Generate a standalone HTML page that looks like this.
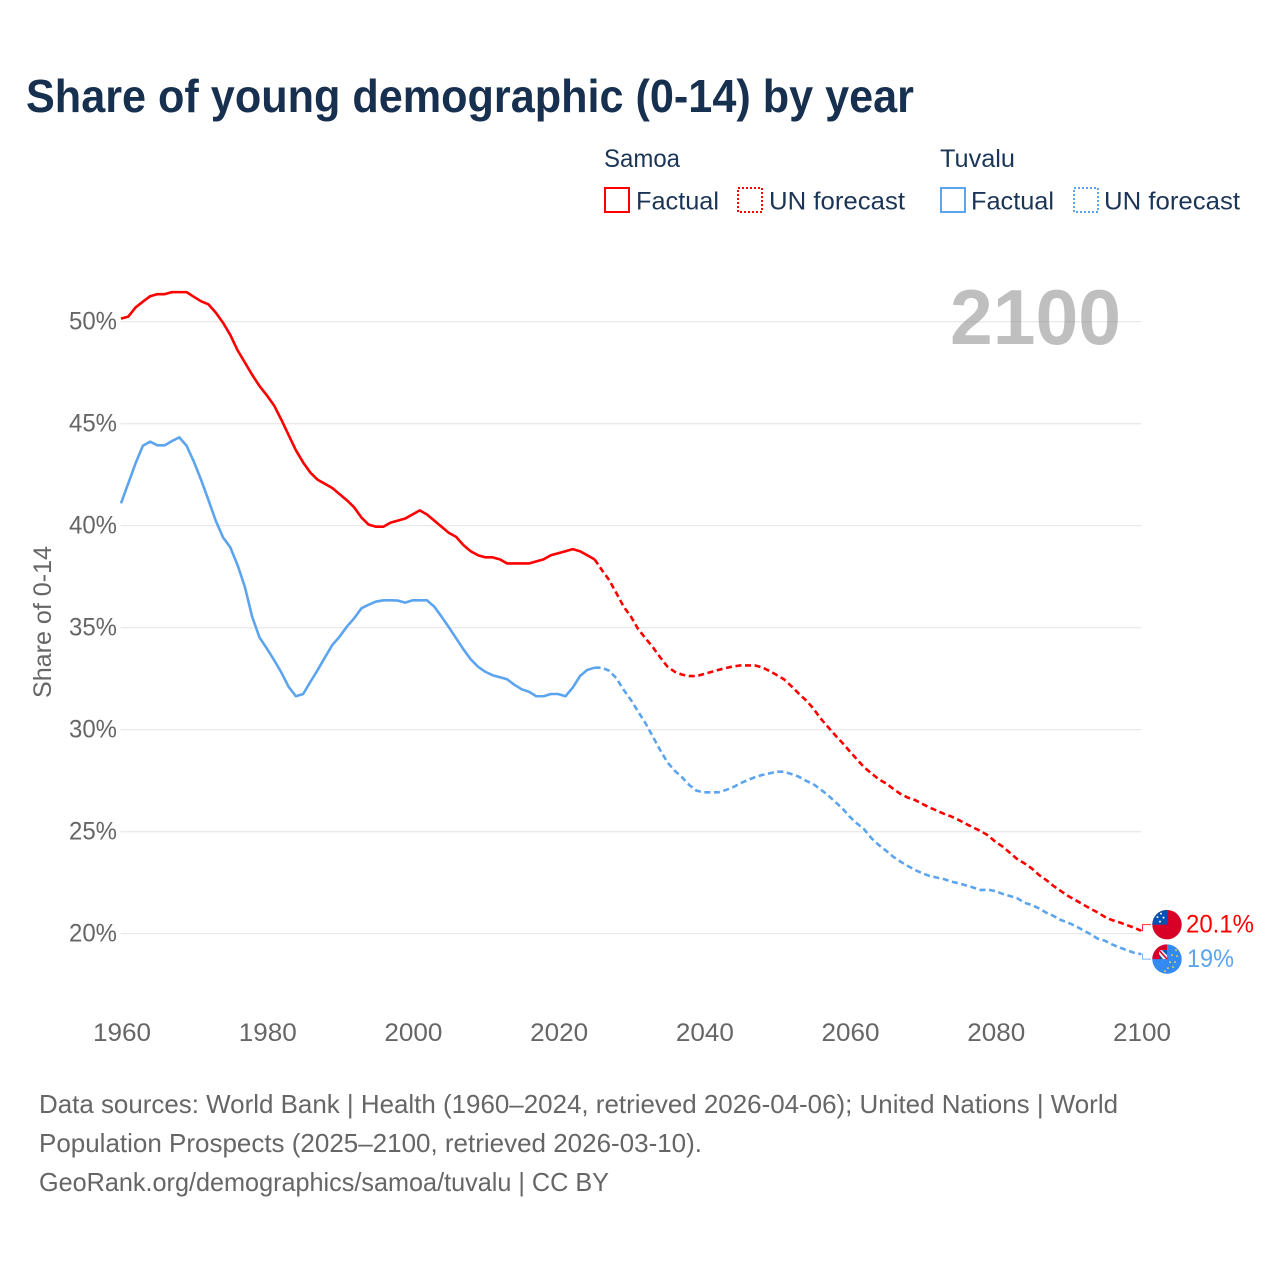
<!DOCTYPE html>
<html lang="en">
<head>
<meta charset="utf-8">
<title>Share of young demographic (0-14) by year</title>
<style>
html,body{margin:0;padding:0;background:#fff;width:1280px;height:1280px;overflow:hidden}
svg{display:block;font-family:"Liberation Sans",Arial,sans-serif}
</style>
</head>
<body>
<svg id="chart" xmlns="http://www.w3.org/2000/svg" width="1280" height="1280" viewBox="0 0 1280 1280">
  <rect width="1280" height="1280" fill="#ffffff"/>
  <text x="26" y="112" font-size="46" font-weight="700" fill="#18304f" textLength="888" lengthAdjust="spacingAndGlyphs">Share of young demographic (0-14) by year</text>

  <g font-size="25" fill="#1b3557">
    <text x="604" y="167" textLength="76" lengthAdjust="spacingAndGlyphs">Samoa</text>
    <text x="940" y="167" textLength="75" lengthAdjust="spacingAndGlyphs">Tuvalu</text>
    <g>
      <rect x="605" y="188" width="24" height="24" fill="none" stroke="#ff0000" stroke-width="2"/>
      <text x="636" y="209.5" textLength="83" lengthAdjust="spacingAndGlyphs">Factual</text>
    </g>
    <g>
      <rect x="738" y="188" width="24" height="24" fill="none" stroke="#ff0000" stroke-width="2" stroke-dasharray="2 2"/>
      <text x="769" y="209.5" textLength="136" lengthAdjust="spacingAndGlyphs">UN forecast</text>
    </g>
    <g>
      <rect x="941" y="188" width="24" height="24" fill="none" stroke="#5ca5ee" stroke-width="2"/>
      <text x="971" y="209.5" textLength="83" lengthAdjust="spacingAndGlyphs">Factual</text>
    </g>
    <g>
      <rect x="1074" y="188" width="24" height="24" fill="none" stroke="#5ca5ee" stroke-width="2" stroke-dasharray="2 2"/>
      <text x="1104" y="209.5" textLength="136" lengthAdjust="spacingAndGlyphs">UN forecast</text>
    </g>
  </g>

  <g id="grid"></g>
  <g id="yticks"></g>
  <g id="xticks"></g>
  <text transform="translate(51,698) rotate(-90)" font-size="25" fill="#666666" textLength="152" lengthAdjust="spacingAndGlyphs">Share of 0-14</text>
  <text x="950" y="344" font-size="78" font-weight="700" fill="#808080" fill-opacity="0.5" textLength="171" lengthAdjust="spacingAndGlyphs">2100</text>
  <g id="series"></g>

  <defs>
    <clipPath id="flag-clip"><circle cx="0" cy="0" r="14.7"/></clipPath>
  </defs>
  <g id="flag-samoa">
    <g clip-path="url(#flag-clip)">
      <rect x="-15" y="-15" width="30" height="30" fill="#d80027"/>
      <rect x="-15" y="-15" width="15" height="15" fill="#0052b4"/>
      <circle cx="-6" cy="-11" r="1" fill="#fff"/>
      <circle cx="-9.5" cy="-7.5" r="1" fill="#fff"/>
      <circle cx="-3.5" cy="-7" r="1" fill="#fff"/>
      <circle cx="-7" cy="-3" r="1" fill="#fff"/>
    </g>
  </g>
  <g id="flag-tuvalu">
    <g clip-path="url(#flag-clip)">
      <rect x="-15" y="-15" width="30" height="30" fill="#338af3"/>
      <rect x="-15" y="-15" width="15" height="15" fill="#d80027"/>
      <rect x="-8" y="-9" width="8" height="9" fill="#f0f0f0"/>
      <path d="M-8 -9 L0 0" stroke="#d80027" stroke-width="1.5"/>
      <path d="M-5 -9 L0 -4 L0 -9 Z" fill="#0052b4"/>
      <path d="M-8 -5 L-8 0 L-4 0 Z" fill="#0052b4"/>
      <g fill="#ffda44">
        <circle cx="9" cy="-9" r="0.9"/><circle cx="5" cy="-4" r="0.9"/><circle cx="10" cy="-3" r="0.9"/>
        <circle cx="3" cy="3" r="0.9"/><circle cx="8" cy="3" r="0.9"/><circle cx="1" cy="9" r="0.9"/>
        <circle cx="6" cy="8" r="0.9"/><circle cx="-2" cy="12" r="0.9"/>
      </g>
    </g>
  </g>
  <text id="label-samoa" x="1186" font-size="25" fill="#ff0000" textLength="68" lengthAdjust="spacingAndGlyphs"></text>
  <text id="label-tuvalu" x="1187" font-size="25" fill="#5ca5ee" textLength="47" lengthAdjust="spacingAndGlyphs"></text>

  <g font-size="26" fill="#666666">
    <text x="39" y="1113" textLength="1079" lengthAdjust="spacingAndGlyphs">Data sources: World Bank | Health (1960–2024, retrieved 2026-04-06); United Nations | World</text>
    <text x="39" y="1152" textLength="663" lengthAdjust="spacingAndGlyphs">Population Prospects (2025–2100, retrieved 2026-03-10).</text>
    <text x="39" y="1191" textLength="570" lengthAdjust="spacingAndGlyphs">GeoRank.org/demographics/samoa/tuvalu | CC BY</text>
  </g>
</svg>
<script>
const firstYear = 1960;
const lastFactualYear = 2025;
const xTickLabels = [1960, 1980, 2000, 2020, 2040, 2060, 2080, 2100];
const yTickLabels = [20, 25, 30, 35, 40, 45, 50];
const samoaEndLabel = "20.1%";
const tuvaluEndLabel = "19%";
const samoaValues = [
  50.15,50.25,50.7,50.98,51.25,51.35,51.35,51.45,51.45,51.45,
  51.22,51.0,50.85,50.45,49.95,49.35,48.6,48.0,47.4,46.85,
  46.4,45.9,45.2,44.45,43.7,43.1,42.6,42.25,42.05,41.85,
  41.55,41.25,40.9,40.4,40.05,39.95,39.95,40.15,40.25,40.35,
  40.55,40.75,40.55,40.25,39.95,39.65,39.45,39.05,38.75,38.55,
  38.45,38.45,38.35,38.15,38.15,38.15,38.15,38.25,38.35,38.55,
  38.65,38.75,38.85,38.75,38.55,38.35,
  37.83,37.34,36.69,36.03,35.54,34.92,34.48,34.04,33.55,33.09,
  32.84,32.7,32.63,32.63,32.73,32.83,32.93,33.02,33.1,33.15,
  33.15,33.15,33.06,32.88,32.68,32.47,32.14,31.78,31.45,31.05,
  30.56,30.15,29.74,29.36,28.95,28.55,28.16,27.86,27.57,27.37,
  27.1,26.85,26.67,26.55,26.36,26.18,26.03,25.87,25.74,25.57,
  25.38,25.2,25.03,24.82,24.51,24.27,23.97,23.66,23.45,23.2,
  22.88,22.63,22.34,22.09,21.85,21.65,21.44,21.24,21.05,20.83,
  20.67,20.56,20.43,20.3,20.15
];
const tuvaluValues = [
  41.1,42.08,43.06,43.92,44.12,43.94,43.94,44.15,44.33,43.92,
  43.14,42.24,41.26,40.25,39.43,38.94,38.07,37.0,35.54,34.53,
  33.99,33.42,32.81,32.11,31.64,31.75,32.35,32.93,33.55,34.15,
  34.56,35.05,35.46,35.95,36.13,36.28,36.34,36.34,36.33,36.23,
  36.34,36.34,36.34,36.03,35.54,35.02,34.48,33.94,33.45,33.09,
  32.84,32.67,32.57,32.47,32.2,31.98,31.86,31.64,31.64,31.75,
  31.75,31.64,32.06,32.63,32.93,33.04,
  33.04,32.89,32.52,31.95,31.45,30.88,30.31,29.66,29.0,28.4,
  27.99,27.67,27.29,27.01,26.93,26.93,26.93,27.04,27.18,27.37,
  27.53,27.67,27.78,27.86,27.94,27.94,27.83,27.7,27.5,27.34,
  27.08,26.8,26.47,26.15,25.74,25.41,25.12,24.68,24.35,24.07,
  23.77,23.53,23.32,23.12,22.96,22.83,22.75,22.67,22.55,22.47,
  22.37,22.26,22.14,22.16,22.09,21.95,21.85,21.74,21.52,21.41,
  21.24,21.03,20.87,20.67,20.54,20.38,20.18,19.99,19.77,19.66,
  19.48,19.33,19.2,19.07,19.0
];

const NS = 'http://www.w3.org/2000/svg';
function xScale(year) { return 121 + (year - 1960) * (1020 / 140); }
function yScale(value) { return 933.7 - (value - 20) * 20.4; }
function node(tag, parent) {
  const el = document.createElementNS(NS, tag);
  parent.appendChild(el);
  return el;
}
function pointsFor(values, fromIndex, toIndex) {
  const out = [];
  for (let i = fromIndex; i <= toIndex && i < values.length; i++) {
    out.push(xScale(firstYear + i).toFixed(2) + ',' + yScale(values[i]).toFixed(2));
  }
  return out.join(' ');
}

const gridGroup = document.getElementById('grid');
const yTickGroup = document.getElementById('yticks');
const xTickGroup = document.getElementById('xticks');
const seriesGroup = document.getElementById('series');

yTickLabels.forEach(function (tick) {
  const line = node('line', gridGroup);
  
  
  line.setAttribute('x1', 120.5);
  line.setAttribute('x2', 1141.5);
  line.setAttribute('y1', yScale(tick));
  line.setAttribute('y2', yScale(tick));
  line.setAttribute('stroke', '#e4e4e4');
  line.setAttribute('stroke-width', '1');

  const label = node('text', yTickGroup);
  
  
  label.setAttribute('x', 69);
  label.setAttribute('y', yScale(tick) + 8);
  label.setAttribute('font-size', '25');
  label.setAttribute('fill', '#666666');
  label.setAttribute('textLength', '48');
  label.setAttribute('lengthAdjust', 'spacingAndGlyphs');
  label.textContent = tick + '%';
});

xTickLabels.forEach(function (tick) {
  const label = node('text', xTickGroup);
  
  
  label.setAttribute('x', xScale(tick) - 28);
  label.setAttribute('y', 1041);
  label.setAttribute('font-size', '25');
  label.setAttribute('fill', '#666666');
  label.setAttribute('textLength', '58');
  label.setAttribute('lengthAdjust', 'spacingAndGlyphs');
  label.textContent = tick;
});

function drawSeries(name, values, color, labelOffset, flagId, labelId, labelText, baselineShift) {
  const split = lastFactualYear - firstYear;

  const factual = node('polyline', seriesGroup);
  
  
  factual.setAttribute('points', pointsFor(values, 0, split));
  factual.setAttribute('fill', 'none');
  factual.setAttribute('stroke', color);
  factual.setAttribute('stroke-width', '2.6');
  factual.setAttribute('stroke-linejoin', 'round');

  const forecast = node('polyline', seriesGroup);
  
  
  forecast.setAttribute('points', pointsFor(values, split, values.length - 1));
  forecast.setAttribute('fill', 'none');
  forecast.setAttribute('stroke', color);
  forecast.setAttribute('stroke-width', '2.6');
  forecast.setAttribute('stroke-dasharray', '6 3.6');

  const endValue = values[values.length - 1];
  const endX = xScale(firstYear + values.length - 1);
  const endY = yScale(endValue);
  const anchorY = endY + labelOffset;

  const leader = node('polyline', seriesGroup);
  
  
  leader.setAttribute('points', endX + ',' + endY + ' ' + (endX + 1.5) + ',' + endY + ' ' + (endX + 1.5) + ',' + anchorY + ' ' + (endX + 10) + ',' + anchorY);
  leader.setAttribute('fill', 'none');
  leader.setAttribute('stroke', color);
  leader.setAttribute('stroke-width', '1');
  leader.setAttribute('stroke-opacity', '0.8');

  document.getElementById(flagId).setAttribute('transform', 'translate(1167,' + (anchorY) + ')');
  const label = document.getElementById(labelId);
  label.setAttribute('y', anchorY + baselineShift);
  label.textContent = labelText;
}

drawSeries('samoa', samoaValues, '#ff0000', -6, 'flag-samoa', 'label-samoa', samoaEndLabel, 8);
drawSeries('tuvalu', tuvaluValues, '#5ca5ee', 5, 'flag-tuvalu', 'label-tuvalu', tuvaluEndLabel, 8);
</script>
</body>
</html>
